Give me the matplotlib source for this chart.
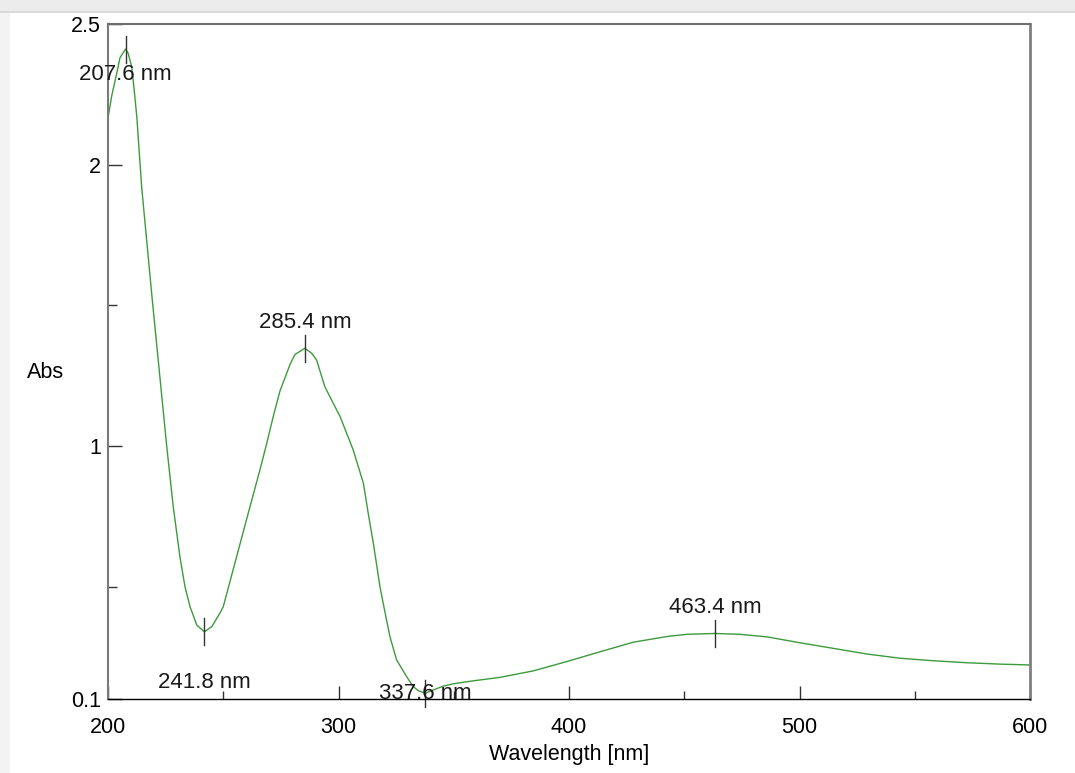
import numpy as np
from matplotlib import pyplot as plt
from matplotlib.patches import Rectangle
from matplotlib.lines import Line2D

plt.rcParams['font.family'] = ['Liberation Sans', 'DejaVu Sans']

# spectrum
wavelength = [200.0, 201.7, 203.8, 205.2, 207.6, 208.7, 210.3, 211.3, 212.5, 214.6,
              216.1, 219.2, 220.4, 225.5, 228.3, 231.2, 233.4, 235.6, 238.5, 241.8,
              245.0, 248.6, 250.0, 255.8, 261.6, 265.9, 268.9, 271.7, 274.6, 279.0,
              281.1, 285.4, 288.4, 290.5, 294.1, 297.0, 300.7, 306.4, 310.8, 312.9,
              315.1, 318.0, 319.4, 322.3, 325.2, 329.6, 332.4, 334.6, 337.6, 341.1,
              345.5, 349.8, 357.0, 370.1, 384.5, 399.0, 413.5, 427.9, 442.4, 451.1,
              463.4, 474.2, 485.8, 500.2, 514.7, 529.2, 543.6, 558.1, 572.5, 587.0,
              600.0]
absorbance = [2.166, 2.248, 2.325, 2.380, 2.411, 2.397, 2.348, 2.270, 2.170, 1.921,
              1.790, 1.520, 1.420, 0.997, 0.784, 0.606, 0.499, 0.428, 0.363, 0.339,
              0.357, 0.406, 0.428, 0.606, 0.784, 0.914, 1.010, 1.105, 1.195, 1.290,
              1.325, 1.347, 1.329, 1.305, 1.210, 1.163, 1.104, 0.985, 0.867, 0.760,
              0.654, 0.499, 0.440, 0.322, 0.239, 0.179, 0.144, 0.130, 0.120, 0.132,
              0.146, 0.154, 0.163, 0.177, 0.200, 0.233, 0.268, 0.302, 0.322, 0.330,
              0.333, 0.330, 0.321, 0.300, 0.280, 0.260, 0.245, 0.236, 0.229, 0.224,
              0.221]

peak_wl = [207.6, 241.8, 285.4, 337.6, 463.4]
peak_abs = [2.411, 0.339, 1.347, 0.120, 0.333]
peak_text = ["207.6 nm", "241.8 nm", "285.4 nm", "337.6 nm", "463.4 nm"]
peak_label_y = [2.319, 0.157, 1.437, 0.121, 0.424]

fig = plt.figure(figsize=(10.75, 7.73), dpi=100)

# window chrome at the top / left
fig.patches.append(Rectangle((0, 1 - 10 / 773), 1, 10 / 773, transform=fig.transFigure,
                             color='#ececec', zorder=0))
fig.lines.append(Line2D([0, 1], [1 - 11.5 / 773] * 2, transform=fig.transFigure,
                        color='#d4d4d4', lw=1.2))
fig.patches.append(Rectangle((0, 0), 9 / 1075, 1 - 12 / 773, transform=fig.transFigure,
                             color='#f3f3f3', zorder=0))

ax = fig.add_axes([108 / 1075, 1 - 699 / 773, 922 / 1075, 675 / 773])
ax.plot(wavelength, absorbance, color='#3d9a3d', lw=1.0)

for wl, a, txt, ly in zip(peak_wl, peak_abs, peak_text, peak_label_y):
    ax.plot([wl, wl], [a - 0.048, a + 0.048], color='#333333', lw=1.0, clip_on=False)
    ax.text(wl, ly, txt, ha='center', va='center', fontsize=16, color='#1a1a1a')

ax.set_xlim(200, 600)
ax.set_ylim(0.1, 2.5)
ax.set_xticks([200, 300, 400, 500, 600])
ax.set_xticks([250, 350, 450, 550], minor=True)
ax.set_yticks([0.1, 1, 2, 2.5])
ax.set_yticklabels(['0.1', '1', '2', '2.5'])
ax.set_yticks([0.5, 1.5], minor=True)

ax.tick_params(axis='x', which='major', direction='in', length=9.4, width=1.0,
               pad=13, labelsize=15.5, color='#333333')
ax.tick_params(axis='x', which='minor', direction='in', length=5.8, width=1.0,
               color='#333333')
ax.tick_params(axis='y', which='major', direction='in', length=10, width=1.0,
               pad=5, labelsize=15.5, color='#333333')
ax.tick_params(axis='y', which='minor', direction='in', length=6.2, width=1.0,
               color='#333333')

ax.spines['bottom'].set_color('black')
ax.spines['bottom'].set_linewidth(1.0)
ax.spines['left'].set_color('#7a7a7a')
ax.spines['left'].set_linewidth(1.5)
ax.spines['top'].set_color('#6e6e6e')
ax.spines['top'].set_linewidth(1.5)
ax.spines['right'].set_color('#808080')
ax.spines['right'].set_linewidth(2.0)

ax.set_xlabel('Wavelength [nm]', fontsize=15.5, labelpad=4)
fig.text(27 / 1075, 1 - 373 / 773, 'Abs', fontsize=15.5, ha='left', va='center')

fig.savefig('out.png', dpi=100)
